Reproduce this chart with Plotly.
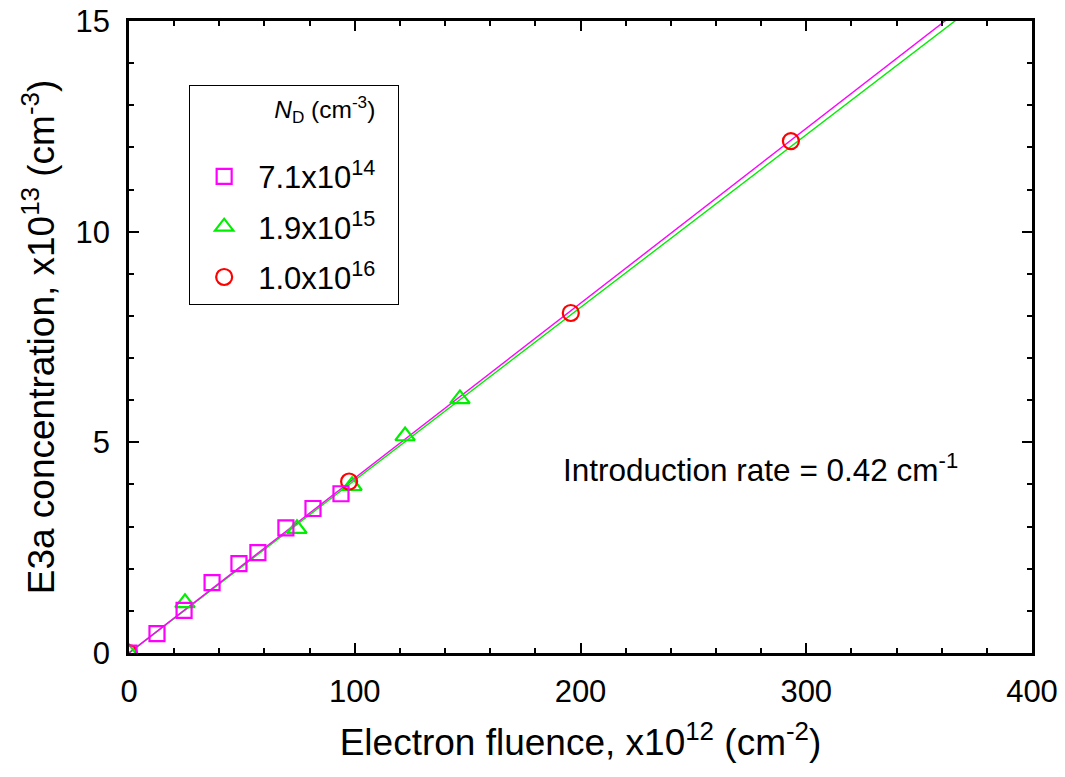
import plotly.graph_objects as go

# E3a concentration vs electron fluence for three donor concentrations
fluence_a = [0, 12.4, 24.4, 36.8, 48.7, 57.1, 69.5, 81.5, 93.9]
conc_a = [0, 0.46, 1.01, 1.67, 2.12, 2.38, 2.97, 3.43, 3.78]

fluence_b = [0, 24.8, 74.4, 98.8, 122.3, 146.6]
conc_b = [0, 1.19, 2.95, 3.97, 5.15, 6.03]

fluence_c = [0, 97.5, 195.7, 293.2]
conc_c = [0, 4.07, 8.07, 12.15]

# linear fits through the origin (slope in units of 1e13 cm^-3 per 1e12 cm^-2)
slope_a = 0.0415
slope_b = 0.0410
fit_x = [0, 400]

series_names = ["7.1x10<sup>14</sup>", "1.9x10<sup>15</sup>", "1.0x10<sup>16</sup>"]

MAGENTA = "#ff00ff"
GREEN = "#00ee00"
RED = "#ff0000"
FONT = "Liberation Sans, Arial, sans-serif"
NB = "\u00a0"

fig = go.Figure()

# fit lines
fig.add_trace(go.Scatter(x=fit_x, y=[slope_b * v for v in fit_x], mode="lines",
                         line=dict(color=GREEN, width=1.4), showlegend=False,
                         hoverinfo="skip"))
fig.add_trace(go.Scatter(x=fit_x, y=[slope_a * v for v in fit_x], mode="lines",
                         line=dict(color=MAGENTA, width=1.4), showlegend=False,
                         hoverinfo="skip"))

# measured points (legend order: squares, triangles, circles)
fig.add_trace(go.Scatter(x=fluence_b, y=conc_b, mode="markers", name=series_names[1] + NB * 2,
                         legendgroup="b", legendrank=2,
                         marker=dict(symbol="triangle-up-open", size=17, color=GREEN,
                                     line=dict(width=2.2, color=GREEN))))
fig.add_trace(go.Scatter(x=fluence_c, y=conc_c, mode="markers", name=series_names[2] + NB * 2,
                         legendgroup="c", legendrank=3,
                         marker=dict(symbol="circle-open", size=16, color=RED,
                                     line=dict(width=2.2, color=RED))))
fig.add_trace(go.Scatter(x=fluence_a, y=conc_a, mode="markers", name=series_names[0] + NB * 2,
                         legendgroup="a", legendrank=1,
                         marker=dict(symbol="square-open", size=15, color=MAGENTA,
                                     line=dict(width=2.2, color=MAGENTA))))

fig.add_annotation(x=191.5, y=4.4, xref="x", yref="y", xanchor="left", yanchor="middle",
                   text="Introduction rate = 0.42 cm<sup>-1</sup>", showarrow=False,
                   font=dict(family=FONT, size=31.5, color="black"))

axis_common = dict(
    showline=True, linecolor="black", linewidth=2.5, mirror="allticks",
    ticks="inside", ticklen=10, tickwidth=2, tickcolor="black",
    showgrid=False, zeroline=False, automargin=False,
    tickfont=dict(family=FONT, size=31, color="black"),
)

fig.update_xaxes(range=[0, 400], dtick=100, tick0=0,
                 minor=dict(dtick=20, ticks="inside", ticklen=5, tickwidth=1.5, tickcolor="black"),
                 title=dict(text="Electron fluence, x10<sup>12</sup> (cm<sup>-2</sup>)",
                            font=dict(family=FONT, size=37, color="black"), standoff=22),
                 ticklabelstandoff=9, **axis_common)
fig.update_yaxes(range=[0, 15], dtick=5, tick0=0,
                 minor=dict(dtick=1, ticks="inside", ticklen=5, tickwidth=1.5, tickcolor="black"),
                 title=dict(text="E3a concentration, x10<sup>13</sup> (cm<sup>-3</sup>)",
                            font=dict(family=FONT, size=37, color="black"), standoff=10),
                 ticklabelstandoff=10, **axis_common)

fig.update_layout(
    width=1065, height=777,
    margin=dict(l=129, r=33, t=21, b=124),
    paper_bgcolor="white", plot_bgcolor="white",
    font=dict(family=FONT, color="black"),
    legend=dict(
        x=0.0664, y=0.899, xanchor="left", yanchor="top",
        bordercolor="black", borderwidth=1.2, bgcolor="white",
        font=dict(family=FONT, size=31, color="black"),
        title=dict(text="<i>N</i><sub>D</sub> (cm<sup>-3</sup>)" + NB * 3 + "<br>" + NB,
                   font=dict(family=FONT, size=24.5, color="black"), side="top right"),
        tracegroupgap=7, traceorder="grouped",
        itemsizing="trace", itemwidth=58,
    ),
    showlegend=True,
)

fig.write_html("out.html")
